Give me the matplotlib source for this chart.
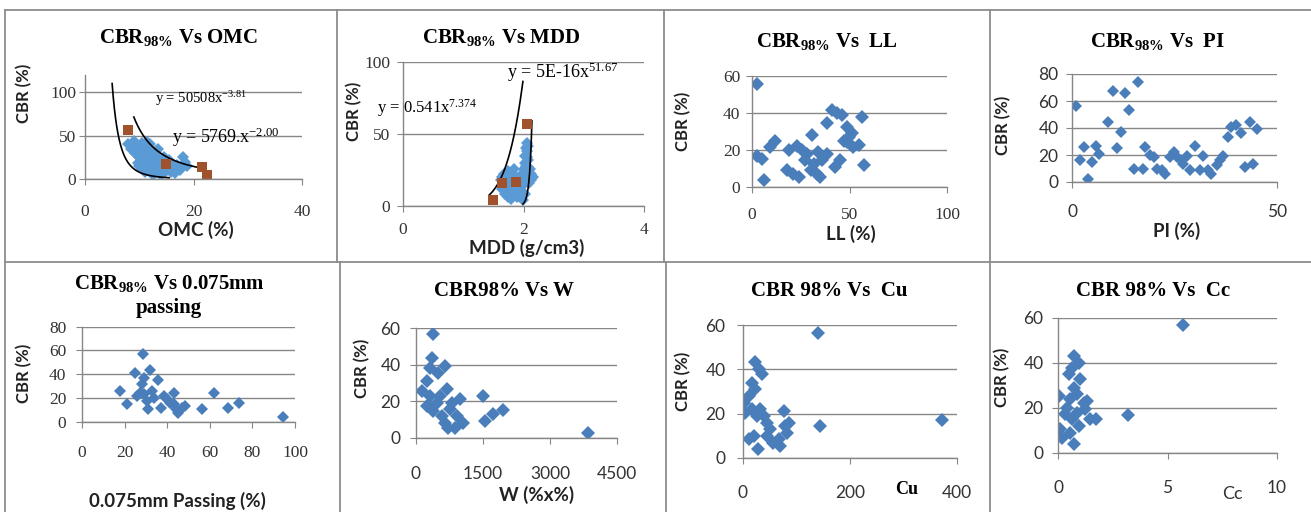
import numpy as np
import matplotlib
matplotlib.use("Agg")
import matplotlib.pyplot as plt
from matplotlib.lines import Line2D

plt.rcParams["mathtext.fontset"] = "custom"
plt.rcParams["mathtext.rm"] = "Liberation Serif"
plt.rcParams["mathtext.it"] = "Liberation Serif:italic"
plt.rcParams["mathtext.bf"] = "Liberation Serif:bold"

W, H = 1311, 512

# ---- data ----
# CBR vs OMC
omc_x = [8.0, 8.5, 9.0, 9.2, 9.5, 10.0, 10.0, 10.5, 10.8, 11.0, 11.2, 11.5, 12.0, 12.0, 12.5, 12.8,
         13.0, 13.0, 13.5, 14.0, 14.0, 14.5, 15.0, 15.5, 16.0, 16.5, 17.0, 17.5, 18.0, 18.5, 18.8,
         11.5, 9.8, 10.5, 13.5, 9.5, 10.2, 10.8, 11.3, 11.8, 12.2, 12.6, 13.2, 13.8, 14.2, 14.8,
         15.2, 15.8, 16.2, 12.0, 13.0, 14.5, 11.0, 12.5, 10.0]
omc_y = [40, 35, 44, 30, 38, 33, 25, 41, 20, 28, 36, 15, 22, 10, 30, 18,
         8, 26, 12, 20, 5, 15, 9, 22, 12, 7, 16, 10, 25, 20, 15,
         42, 18, 12, 35, 28, 38, 32, 24, 30, 16, 26, 20, 14, 10, 18,
         12, 8, 16, 40, 32, 25, 8, 5, 15]
omc_sq_x = [8.0, 15.0, 21.5, 22.5]
omc_sq_y = [56, 17, 14, 5]
omc_fit = [(50508, -3.81, 5.0, 15.5), (5769, -2.00, 9.0, 22.0)]

# CBR vs MDD
mdd_x = [1.62, 1.65, 1.68, 1.70, 1.72, 1.75, 1.78, 1.80, 1.82, 1.85, 1.88, 1.90, 1.92, 1.95, 1.97,
         2.00, 2.02, 2.03, 2.04, 2.05, 2.06, 2.07, 2.08, 2.10, 2.12, 2.00, 1.98, 2.05, 2.15, 1.75,
         1.65, 1.70, 1.74, 1.78, 1.82, 1.86, 1.90, 1.93, 1.96, 2.00, 2.03, 2.04, 2.06, 2.08, 2.09,
         2.11, 2.13, 1.99, 2.02, 1.84]
mdd_y = [18, 12, 22, 8, 16, 24, 10, 5, 14, 20, 8, 12, 18, 6, 22,
         26, 30, 35, 40, 44, 38, 32, 27, 22, 18, 15, 10, 20, 20, 20,
         20, 14, 6, 18, 22, 12, 6, 16, 14, 20, 24, 28, 34, 42, 16,
         26, 22, 4, 8, 26]
mdd_sq_x = [1.49, 1.64, 1.88, 2.05]
mdd_sq_y = [4, 16, 17, 57]
mdd_fit = [(0.541, 7.374, 1.43, 1.99), (5e-16, 51.67, 1.99, 2.14)]

# CBR vs LL
ll_x = [2.6, 2.6, 5, 6, 9.4, 12, 19, 18, 21, 24, 23, 25.6, 28, 27, 31, 32, 30, 33.3, 35, 34,
        38.5, 36, 38.5, 41, 43.6, 46, 45.3, 42.7, 48.7, 49.6, 48.7, 51.3, 52, 54.7, 56.4, 57.3, 47]
ll_y = [55.5, 17, 15, 3.6, 21.7, 25, 20, 9, 7, 5.4, 22, 20, 18, 14.5, 28, 12.6, 9, 7, 5.4, 19,
        18, 14.5, 34.5, 41.6, 39.8, 38.9, 14.5, 10.8, 32.5, 27, 24.4, 29, 21.7, 22.6, 37.6, 11.8, 25]

# CBR vs PI
pi_x = [1.05, 1.9, 3, 4, 4.9, 5.9, 6.7, 8.7, 10.1, 11, 12, 13, 14, 15, 16.2, 17.3, 17.8, 19,
        19.9, 20.7, 21.9, 22.7, 23.9, 24.9, 25.5, 26.7, 27.1, 28, 28.8, 30, 31.2, 32, 33.2, 34,
        35.3, 36, 36.9, 38, 38.9, 40.1, 41.3, 42.1, 43.4, 44.2, 45]
pi_y = [56, 16, 26, 2.5, 15, 27, 20.5, 44.5, 67.6, 25, 37, 65.6, 53, 10, 74, 10, 26, 20,
        18.6, 10, 8.7, 6.2, 18.6, 22, 18.6, 16, 13.6, 19, 8.7, 27, 8.7, 19, 8.7, 5.7,
        12.4, 16, 19, 33.4, 41, 42, 36, 11, 44.5, 13.6, 39.6]

# CBR vs 0.075mm passing
p075_x = [17.7, 21, 25, 25.8, 27.3, 28.6, 28, 28.9, 29.2, 30.5, 30.9, 32, 32.8, 33.6, 35.9,
          37.2, 38.3, 39.8, 41.4, 43, 43.3, 44.2, 45.3, 46.9, 48.4, 56.3, 62.2, 68.4, 73.9, 94.5]
p075_y = [25.8, 14.6, 41, 21.6, 24.4, 56.7, 31.5, 37, 23, 17.4, 10.4, 43.8, 25.8, 20.2, 35.4,
          11.8, 21.6, 18.8, 16, 24.4, 14.6, 10.4, 7.6, 11.8, 13.2, 10.4, 24.4, 11.8, 16, 3.9]

# CBR vs W
w_x = [387, 350, 313, 648, 500, 238, 127, 686, 313, 462, 238, 387, 574, 648, 723, 872, 909,
       984, 1058, 797, 537, 760, 1505, 1542, 1729, 1952, 3852]
w_y = [56.7, 43.9, 38.4, 39.3, 35.7, 31, 25.6, 26.5, 22.9, 19.2, 17.4, 14.6, 11.9, 8.2, 5.5,
       5.5, 11.9, 21, 8.2, 19.2, 22.9, 15.5, 22.9, 9.1, 12.8, 15.2, 2.7]

# CBR vs Cu
cu_x = [141, 144.5, 372, 1, 10.6, 23, 29, 35.5, 17, 23, 10.6, 20, 27.4, 32.4, 38.6, 44.9, 51,
        57, 66.7, 69.8, 76, 79, 82, 85.4, 17, 26, 4.4, 45]
cu_y = [56.4, 14.4, 17.1, 24.9, 28, 43.4, 40, 37.8, 34, 31, 8.3, 9.8, 3.8, 21.9, 18.9, 15.9,
        12.8, 6.8, 8.3, 5.3, 21.2, 14.4, 11.3, 15.9, 21.9, 18.9, 20.4, 9.8]

# CBR vs Cc
cc_x = [5.72, 3.19, 1.47, 1.75, 0.03, 0.1, 0.18, 0.33, 0.49, 0.64, 0.71, 0.94, 1.02, 0.71,
        0.56, 0.86, 1.17, 1.24, 0.86, 0.94, 0.71, 0.56, 0.64, 0.41, 1.32]
cc_y = [56.6, 16.7, 14.8, 15.1, 25.2, 10.4, 6.7, 17, 34.8, 37.8, 43, 40, 32.6, 28.9,
        23.7, 25.9, 22.2, 19.3, 17.8, 11.9, 3.7, 8.9, 14.8, 20, 23]

BLUE = "#4A7EBB"
LIGHT_BLUE = "#5B9BD5"
BROWN = "#A0522D"
GRID = "#868686"
SERIF = "Liberation Serif"
SANS = "Lato"
TICK_SIZE = 12.5
MS = 7

fig = plt.figure(figsize=(W / 100, H / 100), dpi=100)


def px(x, y):
    return x / W, 1 - y / H


def add_panel(left, right, top, bottom):
    return fig.add_axes([left / W, 1 - bottom / H, (right - left) / W, (bottom - top) / H])


def style(ax, xlim, xticks, ylim, yticks, font, xoff, ygap):
    ax.set_xlim(xlim)
    ax.set_ylim(ylim)
    ax.set_xticks(xticks)
    ax.set_yticks(yticks)
    for s in ["top", "right"]:
        ax.spines[s].set_visible(False)
    for s in ["left", "bottom"]:
        ax.spines[s].set_color(GRID)
        ax.spines[s].set_linewidth(1.0)
    ax.yaxis.grid(True, color=GRID, lw=1.0)
    ax.set_axisbelow(True)
    half = 0.55 * TICK_SIZE * 1.389
    ax.tick_params(axis="x", direction="out", length=4, color=GRID,
                   pad=(xoff - 4 - half) / 1.389, labelsize=TICK_SIZE, labelcolor="#333333")
    ax.tick_params(axis="y", direction="out", length=4, color=GRID,
                   pad=(ygap - 4) / 1.389, labelsize=TICK_SIZE, labelcolor="#333333")
    for lab in ax.get_xticklabels() + ax.get_yticklabels():
        lab.set_family(font)
    ax.patch.set_alpha(0)


def title(x, y, s, size=15):
    fig.text(*px(x, y), s, ha="center", va="center", family=SERIF,
             fontweight="bold", fontsize=size)


def label(x, y, s, rot=0, size=12):
    fig.text(*px(x, y), s, ha="center", va="center", family=SANS,
             fontweight="bold", fontsize=size, rotation=rot, color="#222222")


def power_line(ax, fit):
    a, b, x0, x1 = fit
    xs = np.linspace(x0, x1, 200)
    ax.plot(xs, a * xs ** b, color="black", lw=1.2)


# ---- panel 1: OMC ----
ax = add_panel(85, 302, 74.6, 179)
style(ax, (0, 40), [0, 20, 40], (0, 120), [0, 50, 100], SERIF, 33, 7)
ax.plot(omc_x, omc_y, "D", color=LIGHT_BLUE, ms=MS - 1, mew=0)
for f in omc_fit:
    power_line(ax, f)
ax.plot(omc_sq_x, omc_sq_y, "s", color=BROWN, ms=7.5, mew=0)
title(178, 37, r"CBR$_{\mathbf{98\%}}$ Vs OMC")
label(24, 93, "CBR (%)", rot=90)
label(196, 230, "OMC (%)", size=13.5)
fig.text(*px(155, 99), r"y = 50508x$^{-3.81}$", family=SERIF, fontsize=10.5, va="center")
fig.text(*px(172, 137), r"y = 5769.x$^{-2.00}$", family=SERIF, fontsize=13, va="center")

# ---- panel 2: MDD ----
ax = add_panel(403, 644, 62, 206)
style(ax, (0, 4), [0, 2, 4], (0, 100), [0, 50, 100], SERIF, 24, 11)
ax.plot(mdd_x, mdd_y, "D", color=LIGHT_BLUE, ms=MS - 1, mew=0)
for f in mdd_fit:
    power_line(ax, f)
ax.plot(mdd_sq_x, mdd_sq_y, "s", color=BROWN, ms=7.5, mew=0)
title(501, 38, r"CBR$_{\mathbf{98\%}}$ Vs MDD")
label(354, 111, "CBR (%)", rot=90)
label(527, 248, "MDD (g/cm3)", size=13.5)
fig.text(*px(507, 72), r"y = 5E-16x$^{51.67}$", family=SERIF, fontsize=13, va="center")
fig.text(*px(377, 108), r"y = 0.541x$^{7.374}$", family=SERIF, fontsize=12, va="center")

# ---- panel 3: LL ----
ax = add_panel(752, 947, 76, 187)
style(ax, (0, 100), [0, 50, 100], (0, 60), [0, 20, 40, 60], SERIF, 28, 10)
ax.plot(ll_x, ll_y, "D", color=BLUE, ms=MS, mew=0)
title(827, 42, r"CBR$_{\mathbf{98\%}}$ Vs  LL")
label(683, 121, "CBR (%)", rot=90)
label(851, 234, "LL (%)", size=13.5)

# ---- panel 4: PI ----
ax = add_panel(1072, 1277, 74, 182)
style(ax, (0, 50), [0, 50], (0, 80), [0, 20, 40, 60, 80], SANS, 30, 12)
ax.plot(pi_x, pi_y, "D", color=BLUE, ms=MS - 0.5, mew=0)
title(1158, 42, r"CBR$_{\mathbf{98\%}}$ Vs  PI")
label(1003, 125, "CBR (%)", rot=90)
label(1177, 231, "PI (%)", size=13.5)

# ---- panel 5: 0.075mm passing ----
ax = add_panel(82, 295, 326.7, 421.7)
style(ax, (0, 100), [0, 20, 40, 60, 80, 100], (0, 80), [0, 20, 40, 60, 80], SERIF, 31, 14)
ax.plot(p075_x, p075_y, "D", color=BLUE, ms=MS - 0.5, mew=0)
title(169, 284, r"CBR$_{\mathbf{98\%}}$ Vs 0.075mm")
title(169, 308, "passing")
label(24, 373, "CBR (%)", rot=90)
label(177, 501, "0.075mm Passing (%)", size=13.5)

# ---- panel 6: W ----
ax = add_panel(416, 617, 328.3, 437.7)
style(ax, (0, 4500), [0, 1500, 3000, 4500], (0, 60), [0, 20, 40, 60], SANS, 36, 14)
ax.plot(w_x, w_y, "D", color=BLUE, ms=MS, mew=0)
title(504, 291, "CBR98% Vs W")
label(362, 368, "CBR (%)", rot=90)
label(537, 495, "W (%x%)", size=13.5)

# ---- panel 7: Cu ----
ax = add_panel(743, 957, 325.3, 457.7)
style(ax, (0, 400), [0, 200, 400], (0, 60), [0, 20, 40, 60], SANS, 35, 16)
ax.plot(cu_x, cu_y, "D", color=BLUE, ms=MS, mew=0)
title(829, 291, "CBR 98% Vs  Cu")
label(683, 381, "CBR (%)", rot=90)
fig.text(*px(907, 489), "Cu", ha="center", va="center", family=SERIF,
         fontweight="bold", fontsize=13)

# ---- panel 8: Cc ----
ax = add_panel(1058, 1277, 317.7, 452.7)
style(ax, (0, 10), [0, 5, 10], (0, 60), [0, 20, 40, 60], SANS, 35, 13)
ax.plot(cc_x, cc_y, "D", color=BLUE, ms=MS, mew=0)
title(1153, 291, "CBR 98% Vs  Cc")
label(1002, 377, "CBR (%)", rot=90)
fig.text(*px(1232, 494), "Cc", ha="center", va="center", family=SANS, fontsize=13,
         color="#333333")

# ---- table-like frame lines ----
frame = [((5, 10), (1311, 10)), ((5, 10), (5, 512)), ((5, 261.5), (1311, 261.5)),
         ((337, 10), (337, 261.5)), ((663.5, 10), (663.5, 261.5)), ((989.5, 10), (989.5, 512)),
         ((339.5, 261.5), (339.5, 512)), ((666, 261.5), (666, 512))]
for (x0, y0), (x1, y1) in frame:
    fig.add_artist(Line2D([x0 / W, x1 / W], [1 - y0 / H, 1 - y1 / H], color="#8c8c8c",
                          lw=1.3, transform=fig.transFigure))

fig.savefig("out.png", dpi=100, facecolor="white")
